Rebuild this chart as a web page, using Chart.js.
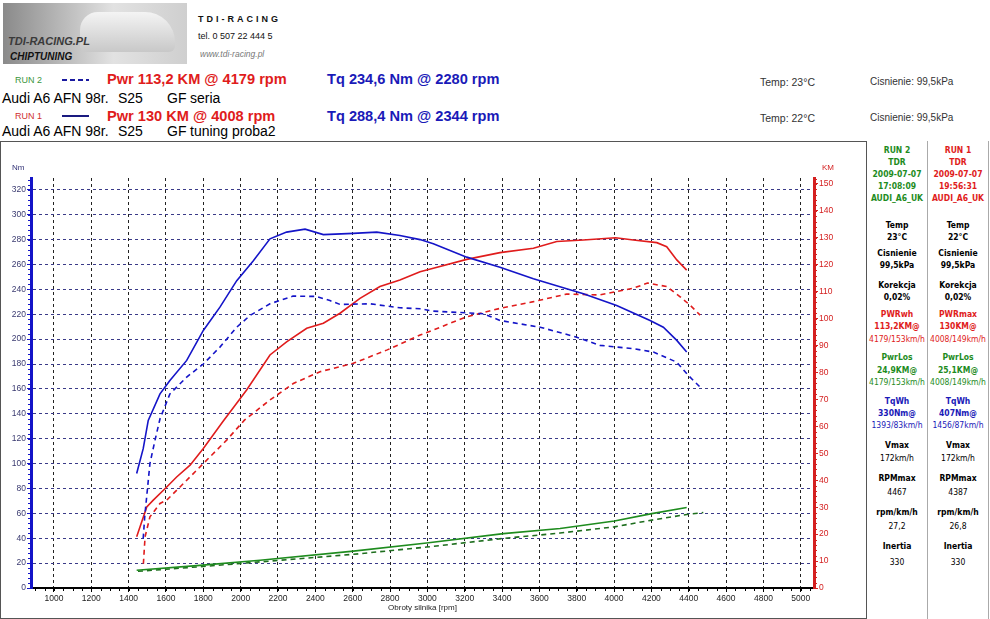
<!DOCTYPE html>
<html><head><meta charset="utf-8">
<script src="https://cdn.jsdelivr.net/npm/chart.js@4.4.1/dist/chart.umd.min.js"></script>
<style>
html,body{margin:0;padding:0;background:#fff}
body{width:990px;height:619px;position:relative;overflow:hidden;font-family:"Liberation Sans",Arial,sans-serif}
.t{position:absolute;white-space:nowrap}
</style></head><body>
<div style="position:absolute;left:3px;top:3px;width:184px;height:61px;background:linear-gradient(90deg,#8a8a8a 0%,#bdbdbd 35%,#e2e2e2 60%,#cfcfcf 100%)"></div>
<div style="position:absolute;left:80px;top:12px;width:95px;height:40px;border-radius:18px 30px 6px 6px;background:linear-gradient(#f4f4f4,#c8c8c8)"></div>
<canvas id="c" width="867" height="478" style="position:absolute;left:0;top:141px;width:867px;height:478px"></canvas>
<div style="position:absolute;left:0;top:141px;width:867px;height:478px;border:1px solid #555;box-sizing:border-box;pointer-events:none"></div>
<div style="position:absolute;left:927px;top:141px;width:1px;height:478px;background:#aaa"></div>
<div style="position:absolute;left:988px;top:141px;width:1px;height:478px;background:#aaa"></div>
<div style="position:absolute;left:62px;top:79px;width:27px;height:2px;background:repeating-linear-gradient(90deg,#1a1aa0 0 5px,transparent 5px 8px)"></div>
<div style="position:absolute;left:62px;top:115px;width:27px;height:2px;background:#1a1a80"></div>
<script>
// ---- data ----
const xTicks = [1000,1200,1400,1600,1800,2000,2200,2400,2600,2800,3000,3200,3400,3600,3800,4000,4200,4400,4600,4800,5000];
const nmTicks = [0,20,40,60,80,100,120,140,160,180,200,220,240,260,280,300,320];
const kmTicks = [0,10,20,30,40,50,60,70,80,90,100,110,120,130,140,150];

// RUN 1 torque (solid blue, Nm)
const tq1Rpm = [1443,1478,1505,1568,1621,1711,1800,1889,1979,2068,2157,2246,2345,2443,2603,2729,2853,2961,3032,3211,3389,3568,3746,3836,4014,4193,4264,4336,4389];
const tq1Nm  = [92,112,134.7,156,166.8,182.9,207,225.7,247,263,280.6,286,288.4,284,285,286,283.3,280,276.6,265.9,257.8,248.5,240.5,236.5,227,215,209.6,199,189.6];
// RUN 2 torque (dashed blue, Nm)
const tq2Rpm = [1478,1486,1514,1541,1568,1621,1711,1800,1889,1979,2050,2157,2280,2407,2478,2532,2693,2853,2961,3032,3300,3389,3604,3800,3925,4104,4211,4336,4398,4461];
const tq2Nm  = [39.7,57,100,118.6,136,156,169.5,180,193.6,209.6,219,228.4,234.6,234.3,231,227.9,228.4,225.2,224.4,222.5,220.4,215,209.6,201.6,195,192.3,189.6,181.5,170.8,161.4];
// RUN 1 power (solid red, KM)
const pw1Rpm = [1443,1497,1532,1604,1657,1729,1800,1907,2032,2157,2246,2354,2443,2532,2639,2746,2853,2961,3032,3211,3389,3568,3693,3836,4008,4104,4229,4282,4336,4389];
const pw1Km  = [19,30.1,32.6,37.5,41.2,45.6,51.8,62,73.5,86.5,91.4,96.4,98.3,102,107.5,111.9,114.3,117.4,118.7,122,124.5,126.1,128.6,129.2,130,129.2,128.2,126.7,121.8,118];
// RUN 2 power (dashed red, KM)
const pw2Rpm = [1479,1488,1514,1568,1604,1675,1800,1925,2020,2157,2282,2425,2603,2782,2853,2961,3032,3211,3389,3568,3746,3925,4104,4179,4282,4354,4407,4461];
const pw2Km  = [9,19,26.4,31.4,32.6,37.5,46.2,54.9,62.3,69.8,75.9,80.3,83.4,88.3,90.5,93.9,95.8,100.7,103.8,106.3,109.1,108.8,111.3,113.2,111.9,108.1,105,101.3];
// RUN 1 loss power (solid green, KM)
const ls1Rpm = [1443,1782,2104,2604,2996,3407,3711,4002,4202,4389];
const ls1Km  = [6.6,8.4,10.3,13.7,16.7,20.2,22.1,24.9,27.6,29.9];
// RUN 2 loss power (dashed green, KM)
const ls2Rpm = [1450,1782,2104,2604,2996,3407,3711,4002,4202,4389,4478];
const ls2Km  = [6.2,7.9,9.7,12.5,15.2,18.4,20.4,22.7,25.2,27.3,28];

// ---- text helper ----
function put(txt,x,y,o){o=o||{};const d=document.createElement('div');d.className='t';d.textContent=txt;
 const fs=o.size||9, lh=Math.round(fs*1.2);d.style.fontSize=fs+'px';d.style.lineHeight=lh+'px';
 d.style.top=(y-lh/2)+'px';d.style.left=x+'px';if(o.center)d.style.transform='translateX(-50%)';
 d.style.color=o.color||'#000';if(o.bold)d.style.fontWeight='bold';if(o.italic)d.style.fontStyle='italic';
 if(o.ls)d.style.letterSpacing=o.ls+'px';if(o.family)d.style.fontFamily=o.family;document.body.appendChild(d);}

// logo texts
put('TDI-RACING.PL',8,41,{size:11,bold:true,italic:true,color:'#3a3a3a'});
put('CHIPTUNING',10,57,{size:10,bold:true,italic:true,color:'#111'});
put('TDI-RACING',198,19,{size:9,bold:true,ls:3,color:'#111'});
put('tel. 0 507 22 444 5',198,36,{size:9,color:'#111'});
put('www.tdi-racing.pl',200,54,{size:8.5,italic:true,color:'#777'});

// header rows
const RED='#e01c1c', BLUE='#1a1ab8', GREEN='#1e8c1e';
put('RUN 2',15,80,{size:9,color:'#3c963c'});
put('Pwr 113,2 KM @ 4179 rpm',107,79,{size:14.6,bold:true,color:RED});
put('Tq 234,6 Nm @ 2280 rpm',327,79,{size:14.6,bold:true,color:BLUE});
put('Audi A6 AFN 98r.',2,98,{size:14});put('S25',118,98,{size:14});put('GF',167,98,{size:14});put('seria',190,98,{size:14});
put('RUN 1',15,116,{size:9,color:'#d03030'});
put('Pwr 130 KM @ 4008 rpm',107,116,{size:14.6,bold:true,color:RED});
put('Tq 288,4 Nm @ 2344 rpm',327,116,{size:14.6,bold:true,color:BLUE});
put('Audi A6 AFN 98r.',2,131,{size:14});put('S25',118,131,{size:14});put('GF',167,131,{size:14});put('tuning proba2',190,131,{size:14});
put('Temp: 23°C',760,82,{size:10.5,color:'#333'});put('Cisnienie: 99,5kPa',870,82,{size:10,color:'#333'});
put('Temp: 22°C',760,118,{size:10.5,color:'#333'});put('Cisnienie: 99,5kPa',870,118,{size:10,color:'#333'});

// axis unit labels
put('Nm',12,168,{size:8,color:'#333377'});
put('KM',822,168,{size:8,color:'#d42020'});

// right info panel
const panel=[
 [150,'RUN 2','RUN 1',GREEN,RED,true],
 [161.5,'TDR','TDR',GREEN,RED,true],
 [173.5,'2009-07-07','2009-07-07',GREEN,RED,true],
 [186,'17:08:09','19:56:31',GREEN,RED,true],
 [198,'AUDI_A6_UK','AUDI_A6_UK',GREEN,RED,true],
 [225,'Temp','Temp','#000','#000',true],
 [236.5,'23°C','22°C','#000','#000',true],
 [253,'Cisnienie','Cisnienie','#000','#000',true],
 [265,'99,5kPa','99,5kPa','#000','#000',true],
 [285,'Korekcja','Korekcja','#000','#000',true],
 [297,'0,02%','0,02%','#000','#000',true],
 [314,'PWRwh','PWRmax',RED,RED,true],
 [326,'113,2KM@','130KM@',RED,RED,true],
 [338.5,'4179/153km/h','4008/149km/h',RED,RED,false],
 [357,'PwrLos','PwrLos',GREEN,GREEN,true],
 [369.5,'24,9KM@','25,1KM@',GREEN,GREEN,true],
 [382,'4179/153km/h','4008/149km/h',GREEN,GREEN,false],
 [401,'TqWh','TqWh',BLUE,BLUE,true],
 [413,'330Nm@','407Nm@',BLUE,BLUE,true],
 [425,'1393/83km/h','1456/87km/h',BLUE,BLUE,false],
 [444.5,'Vmax','Vmax','#000','#000',true],
 [457.5,'172km/h','172km/h','#000','#000',false],
 [478,'RPMmax','RPMmax','#000','#000',true],
 [492,'4467','4387','#000','#000',false],
 [512,'rpm/km/h','rpm/km/h','#000','#000',true],
 [525.5,'27,2','26,8','#000','#000',false],
 [546,'Inertia','Inertia','#000','#000',true],
 [562,'330','330','#000','#000',false]
];
panel.forEach(r=>{
 const fam='"DejaVu Sans Condensed","Liberation Sans Narrow","Liberation Sans",sans-serif';
 put(r[1],897,r[0],{size:8.5,bold:r[5],color:r[3],center:true,family:fam});
 put(r[2],958,r[0],{size:8.5,bold:r[5],color:r[4],center:true,family:fam});
});

// ---- chart ----
function pts(xs,ys){return xs.map((v,i)=>({x:v,y:ys[i]}));}
function ds(xs,ys,axis,color,dash,w){return {data:pts(xs,ys),yAxisID:axis,borderColor:color,borderWidth:w||1.6,borderDash:dash,pointRadius:0,tension:0,fill:false};}

const minorTicks={id:'minorTicks',afterDraw(chart){
 const {ctx,chartArea:a}=chart;const x=chart.scales.x,yL=chart.scales.yL,yR=chart.scales.yR;
 ctx.save();ctx.lineWidth=1;
 ctx.strokeStyle='#000';ctx.beginPath();
 for(let v=900;v<=5050;v+=50){const p=Math.round(x.getPixelForValue(v))+0.5;ctx.moveTo(p,a.bottom);ctx.lineTo(p,a.bottom+3);}ctx.stroke();
 ctx.strokeStyle='#1414c8';ctx.beginPath();
 for(let v=0;v<=328;v+=4){const p=Math.round(yL.getPixelForValue(v))+0.5;ctx.moveTo(a.left,p);ctx.lineTo(a.left-3,p);}ctx.stroke();
 ctx.strokeStyle='#d42020';ctx.beginPath();
 for(let v=0;v<=152;v+=2){const p=Math.round(yR.getPixelForValue(v))+0.5;ctx.moveTo(a.right,p);ctx.lineTo(a.right+3,p);}ctx.stroke();
 ctx.restore();}};

const F={family:'"Liberation Sans",Arial,sans-serif',size:8.5};
new Chart(document.getElementById('c'),{
 type:'line',
 data:{datasets:[
  ds(ls1Rpm,ls1Km,'yR','#1e8c1e',[]),
  ds(ls2Rpm,ls2Km,'yR','#1e6e1e',[5,4]),
  ds(tq1Rpm,tq1Nm,'yL','#1414c8',[]),
  ds(tq2Rpm,tq2Nm,'yL','#1414c8',[5,4]),
  ds(pw1Rpm,pw1Km,'yR','#e01c1c',[]),
  ds(pw2Rpm,pw2Km,'yR','#e01c1c',[5,4])
 ]},
 options:{responsive:false,animation:false,devicePixelRatio:1,
  layout:{padding:{top:37,left:0,right:0,bottom:0}},
  plugins:{legend:{display:false},tooltip:{enabled:false},title:{display:false}},
  scales:{
   x:{type:'linear',min:877,max:5071,
    afterBuildTicks:s=>{s.ticks=xTicks.map(v=>({value:v}));},
    afterFit:s=>{s.height=31;},
    ticks:{font:F,color:'#222',padding:2,maxRotation:0,autoSkip:false,callback:v=>String(v)},
    grid:{color:'#222',lineWidth:1,tickLength:4,tickColor:'#000'},
    border:{display:true,color:'#000',width:2,dash:[3,3]},
    title:{display:true,text:'Obroty silnika [rpm]',font:{family:F.family,size:8},color:'#222',padding:{top:0,bottom:6}}},
   yL:{type:'linear',position:'left',min:0,max:329.5,
    afterBuildTicks:s=>{s.ticks=nmTicks.map(v=>({value:v}));},
    afterFit:s=>{s.width=31;},
    ticks:{font:F,color:'#3a3a70',padding:1,autoSkip:false},
    grid:{color:'#3a3a88',lineWidth:1,tickLength:4,tickColor:'#1414c8'},
    border:{display:true,color:'#1414c8',width:3,dash:[3,3]}},
   yR:{type:'linear',position:'right',min:0,max:152.2,
    afterBuildTicks:s=>{s.ticks=kmTicks.map(v=>({value:v}));},
    afterFit:s=>{s.width=53;},
    ticks:{font:F,color:'#d42020',padding:1,autoSkip:false},
    grid:{drawOnChartArea:false,color:'#d42020',tickLength:4,tickColor:'#d42020'},
    border:{display:true,color:'#d42020',width:3}}
  }},
 plugins:[minorTicks]
});
</script>
</body></html>
